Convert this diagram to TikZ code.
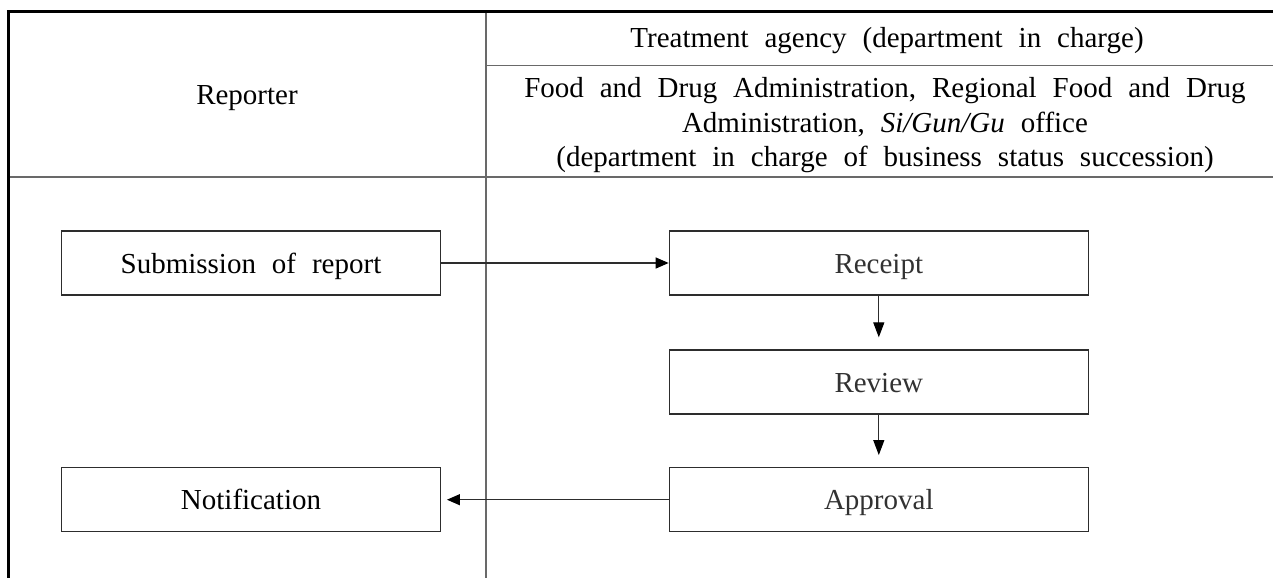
\documentclass[tikz,border=0pt]{standalone}
\usepackage{fontspec}
\setmainfont{Liberation Serif}[WordSpace=2.2]
\usetikzlibrary{arrows.meta}

\definecolor{rulegray}{RGB}{105,105,105}
\definecolor{boxgray}{RGB}{45,45,45}
\definecolor{labelgray}{RGB}{50,50,50}

\begin{document}
\begin{tikzpicture}[
  x=1pt, y=-1pt,
  font=\fontsize{29}{34.5}\selectfont,
  frameline/.style={draw=black, line width=3pt},
  tableline/.style={draw=rulegray, line width=1.4pt},
  stepbox/.style={draw=boxgray, line width=1.3pt, inner sep=0pt,
    minimum height=64pt, text height=20pt, text depth=0pt},
  leftbox/.style={stepbox, minimum width=378.6pt},
  rightbox/.style={stepbox, minimum width=419pt, text=labelgray},
  flow/.style={draw=boxgray, line width=1.2pt,
    -{Triangle[length=13pt,width=11pt,color=black]}},
  downflow/.style={flow, -{Triangle[length=15pt,width=11pt,color=black]}, shorten >=12pt}
]
\useasboundingbox (0,0) rectangle (1273,578);

% table frame and rules
\coordinate (tl) at (8.3,11.5);
\coordinate (tr) at (1273,11.5);
\coordinate (bl) at (8.3,578);
\coordinate (divtop) at (486,11.5);
\coordinate (divbot) at (486,578);
\coordinate (subl) at (486,65.5);
\coordinate (subr) at (1273,65.5);
\coordinate (headl) at (8.3,177);
\coordinate (headr) at (1273,177);

\draw[tableline] (divtop) -- (divbot);
\draw[tableline] (subl) -- (subr);
\draw[tableline] (headl) -- (headr);
\draw[frameline] ([xshift=-1.5pt]tl) -- (tr);
\draw[frameline] (tl) -- (bl);

% header cells
\node[anchor=base] (rep) at (247,104.5) {Reporter};
\node[anchor=base] (agency) at (887,48) {Treatment agency (department in charge)};
\node[anchor=north, align=center, inner sep=0pt] (dept) at (885,77.2)
  {Food and Drug Administration, Regional Food and Drug\\
   Administration, \textit{Si/Gun/Gu} office\\
   (department in charge of business status succession)};

% process steps
\node[leftbox] (submit) at (251,263) {Submission of report};
\node[leftbox] (notify) at (251,499.7) {Notification};
\node[rightbox] (receipt) at (878.8,263) {Receipt};
\node[rightbox] (review) at (878.8,382) {Review};
\node[rightbox] (approval) at (878.8,499.7) {Approval};

% flow
\draw[flow] (submit.east) -- (receipt.west);
\draw[downflow] (receipt.south) -- (review.north);
\draw[downflow] (review.south) -- (approval.north);
\draw[flow, shorten >=6pt] (approval.west) -- (notify.east);
\end{tikzpicture}
\end{document}
